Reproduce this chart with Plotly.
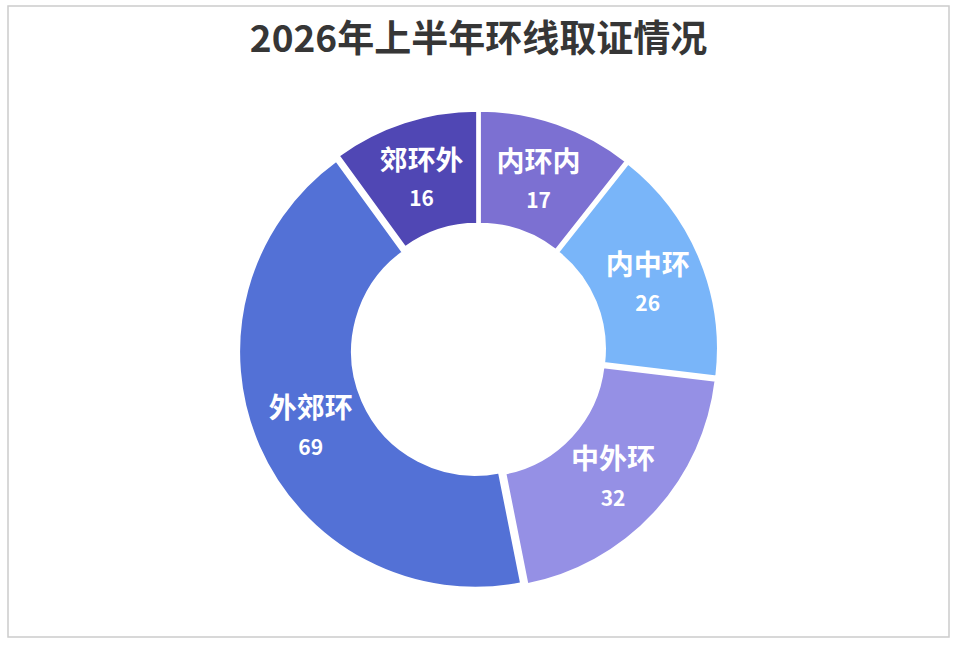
import plotly.graph_objects as go

labels = ["内环内", "内中环", "中外环", "外郊环", "郊环外"]
values = [17, 26, 32, 69, 16]
colors = ["#7c70d2", "#79b5f9", "#9590e5", "#5371d6", "#5047b4"]

title_text = "2026年上半年环线取证情况"

fig = go.Figure()
fig.add_trace(go.Pie(
    labels=labels,
    values=values,
    sort=False,
    direction="clockwise",
    rotation=0,
    hole=0.52,
    pull=0.015,
    marker=dict(colors=colors, line=dict(color="white", width=2.5)),
    texttemplate="<b>%{label}</b><br><span style='font-size:21px'><b>%{value}</b></span>",
    textposition="inside",
    insidetextorientation="horizontal",
    textfont=dict(family="Noto Sans CJK SC", size=28, color="white"),
    domain=dict(x=[0.1, 0.9], y=[0.085, 0.829]),
    showlegend=False,
))

fig.update_layout(
    width=957,
    height=645,
    margin=dict(l=0, r=0, t=0, b=0),
    paper_bgcolor="white",
    title=dict(
        text=title_text,
        x=0.5,
        xanchor="center",
        y=0.94,
        yanchor="middle",
        font=dict(family="Noto Sans CJK SC", size=37, color="#363636", weight="bold"),
    ),
    shapes=[dict(
        type="rect", xref="paper", yref="paper",
        x0=8 / 957, x1=949 / 957, y0=8 / 645, y1=639 / 645,
        line=dict(color="#cccccc", width=1.5),
    )],
)

# page has a default 8px body margin; drop it so the figure sits at 0,0
fig.write_html(
    "out.html",
    config={"displayModeBar": False},
    post_script="document.body.style.margin='0';",
)
